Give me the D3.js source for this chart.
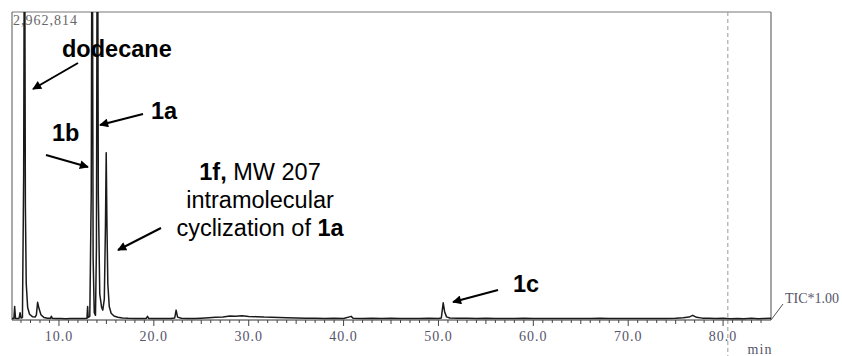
<!DOCTYPE html>
<html>
<head>
<meta charset="utf-8">
<script src="https://cdn.jsdelivr.net/npm/d3@7"></script>
<style>
  body { margin: 0; background: #fff; }
  svg { display: block; }
</style>
</head>
<body>
<div id="chart"></div>
<script>
// retention time (min) and total ion current (counts)
var retTime = [5.05, 5.25, 5.33, 5.42, 5.6, 5.8, 5.9, 6.0, 6.15, 6.28, 6.37, 6.46, 6.55, 6.7, 6.9, 7.2, 7.5, 7.62, 7.75, 7.9,
  8.1, 8.4, 8.8, 9.1, 9.2, 9.3, 9.7, 10.2, 10.7, 11.2, 11.7, 12.2, 12.7, 12.95, 13.02, 13.08, 13.25, 13.4, 13.5, 13.6,
  13.72, 13.85, 13.95, 14.05, 14.15, 14.3, 14.5, 14.62, 14.78, 14.9, 14.98, 15.06, 15.15, 15.3, 15.5, 15.8, 16.2, 16.7, 17.3, 18.0,
  18.7, 19.2, 19.33, 19.45, 20.2, 21.0, 21.8, 22.2, 22.35, 22.5, 22.9, 23.5, 24.3, 25.0, 25.8, 26.5, 27.3, 28.0, 28.6, 29.3,
  30.0, 30.8, 31.6, 32.4, 33.2, 34.0, 35.0, 36.0, 37.0, 38.0, 39.0, 40.0, 40.8, 41.0, 42.0, 43.0, 44.0, 45.0, 46.0, 47.0,
  48.0, 49.0, 50.0, 50.3, 50.5, 50.65, 50.85, 51.2, 52.0, 53.0, 54.0, 55.0, 56.0, 57.0, 58.0, 59.0, 60.0, 61.0, 62.0, 63.0,
  64.0, 65.0, 66.0, 67.0, 68.0, 69.0, 70.0, 71.0, 72.0, 73.0, 74.0, 75.0, 75.8, 76.4, 76.8, 77.2, 77.8, 78.5, 79.2, 80.0,
  80.8, 81.5, 82.2, 83.0, 83.7, 84.3, 85.05];
var ticCounts = [14000, 15000, 130000, 16000, 15000, 17000, 70000, 20000, 24000, 1400000, 4500000, 1100000, 350000, 120000, 55000, 32000, 30000, 50000, 170000, 110000,
  50000, 25000, 17000, 16000, 36000, 16000, 14000, 15000, 13000, 14500, 13500, 15000, 14000, 16000, 130000, 25000, 35000, 1200000, 4800000, 600000,
  70000, 45000, 700000, 4800000, 1200000, 250000, 120000, 95000, 200000, 900000, 1610000, 900000, 350000, 130000, 65000, 38000, 27000, 20000, 17000, 15000,
  14000, 15000, 36000, 15000, 13500, 14000, 15000, 20000, 95000, 28000, 16000, 14000, 15000, 18000, 22000, 26000, 30000, 38000, 36000, 40000,
  34000, 32000, 28000, 27000, 24000, 22000, 19000, 18000, 17000, 15500, 16500, 15000, 35000, 16000, 15000, 16000, 14500, 16000, 15000, 15500,
  14000, 16000, 15000, 19000, 165000, 80000, 30000, 20000, 17000, 16000, 15000, 16000, 14500, 15500, 14000, 16000, 15000, 14500, 15500, 14000,
  15500, 14500, 15000, 16000, 14500, 15000, 15500, 14000, 15000, 15500, 14500, 17000, 22000, 28000, 45000, 26000, 18000, 16000, 15000, 16000,
  12000, 15000, 11000, 17000, 12000, 14000, 16000];

var fullScale = 2962814;
var xTicks = [10, 20, 30, 40, 50, 60, 70, 80];
var markerTime = 80.5;

// peak labels: text, position, arrow from -> to
var peakNotes = [
  {lines: [[{t: "dodecane", b: true}]], x: 62, y: 57, from: [78, 63], to: [33, 89]},
  {lines: [[{t: "1a", b: true}]], x: 151, y: 119, from: [143, 114], to: [100, 125]},
  {lines: [[{t: "1b", b: true}]], x: 52, y: 141, from: [46, 155], to: [88, 167]},
  {lines: [[{t: "1f,", b: true}, {t: " MW 207", b: false}],
           [{t: "intramolecular", b: false}],
           [{t: "cyclization of ", b: false}, {t: "1a", b: true}]], x: 260, y: 180, center: true, from: [161, 228], to: [118, 250]},
  {lines: [[{t: "1c", b: true}]], x: 513, y: 292, from: [498, 290], to: [453, 302]}
];

var width = 842, height = 356;
var frame = {left: 12, right: 771, top: 12, bottom: 320};
var serif = "'Liberation Serif', 'DejaVu Serif', serif";

var svg = d3.select("#chart").append("svg")
    .attr("width", width)
    .attr("height", height);

var xScale = d3.scaleLinear().domain([5.05, 85.05]).range([frame.left, frame.right]);
var yScale = d3.scaleLinear().domain([0, fullScale]).range([frame.bottom, frame.top]);

svg.append("defs").append("clipPath").attr("id", "plotclip")
  .append("rect")
    .attr("x", frame.left).attr("y", frame.top)
    .attr("width", frame.right - frame.left).attr("height", frame.bottom - frame.top);

svg.append("defs").append("marker")
    .attr("id", "arrowhead")
    .attr("viewBox", "0 0 10 10")
    .attr("refX", 9).attr("refY", 5)
    .attr("markerWidth", 5).attr("markerHeight", 4.5)
    .attr("orient", "auto")
  .append("path").attr("d", "M0,0 L10,5 L0,10 z").attr("fill", "#000");

// frame
svg.append("line").attr("x1", frame.left).attr("x2", frame.right).attr("y1", frame.top).attr("y2", frame.top)
  .attr("stroke", "#777").attr("stroke-width", 1);
svg.append("line").attr("x1", frame.left).attr("x2", frame.left).attr("y1", frame.top).attr("y2", frame.bottom)
  .attr("stroke", "#555").attr("stroke-width", 1);
svg.append("line").attr("x1", frame.right).attr("x2", frame.right).attr("y1", frame.top).attr("y2", frame.bottom)
  .attr("stroke", "#888").attr("stroke-width", 1.5);

// dashed marker line
svg.append("line")
  .attr("x1", xScale(markerTime)).attr("x2", xScale(markerTime))
  .attr("y1", frame.top).attr("y2", height)
  .attr("stroke", "#999").attr("stroke-width", 1).attr("stroke-dasharray", "4,3");

// x axis with minor ticks every minute
var minorTicks = d3.range(6, 85, 1);
var axisG = svg.append("g").attr("transform", "translate(0," + frame.bottom + ")");
axisG.append("line").attr("x1", frame.left).attr("x2", frame.right).attr("stroke", "#333").attr("stroke-width", 1.2);
axisG.selectAll(".minor").data(minorTicks).enter().append("line")
  .attr("x1", function(d) { return xScale(d); })
  .attr("x2", function(d) { return xScale(d); })
  .attr("y1", 0)
  .attr("y2", function(d) { return d % 10 === 0 ? 6 : (d % 5 === 0 ? 4 : 3); })
  .attr("stroke", "#444").attr("stroke-width", 1);
axisG.selectAll(".lbl").data(xTicks).enter().append("text")
  .attr("x", function(d) { return xScale(d); })
  .attr("y", 21)
  .attr("text-anchor", "middle")
  .style("font-family", serif)
  .style("font-size", "14px")
  .style("letter-spacing", "1px")
  .style("fill", "#55556a")
  .text(function(d) { return d.toFixed(1); });

svg.append("text").attr("x", 760).attr("y", 354).attr("text-anchor", "middle")
  .style("font-family", serif)
  .style("font-size", "14px").style("letter-spacing", "1px").style("fill", "#55556a")
  .text("min");

// TIC label
svg.append("line").attr("x1", frame.right).attr("y1", frame.bottom).attr("x2", 783).attr("y2", 304)
  .attr("stroke", "#555").attr("stroke-width", 1);
svg.append("text").attr("x", 785).attr("y", 303)
  .style("font-family", serif)
  .style("font-size", "14px").style("fill", "#55556a")
  .text("TIC*1.00");

// full scale value
svg.append("text").attr("x", frame.left + 1).attr("y", 25)
  .style("font-family", serif)
  .style("font-size", "14px").style("letter-spacing", "1px").style("fill", "#666")
  .text(d3.format(",")(fullScale));

// trace
var traceData = retTime.map(function(t, i) { return {t: t, v: ticCounts[i]}; });
var line = d3.line()
  .x(function(d) { return xScale(d.t); })
  .y(function(d) { return yScale(d.v); });

svg.append("path")
  .datum(traceData)
  .attr("clip-path", "url(#plotclip)")
  .attr("d", line)
  .attr("fill", "none")
  .attr("stroke", "#1a1a1a")
  .attr("stroke-width", 1.5)
  .attr("stroke-linejoin", "round");

// annotations
peakNotes.forEach(function(n) {
  n.lines.forEach(function(ln, li) {
    var txt = svg.append("text")
      .attr("x", n.x)
      .attr("y", n.y + li * 28)
      .attr("text-anchor", n.center ? "middle" : "start")
      .style("font-family", "'Liberation Sans', Arial, sans-serif")
      .style("font-size", "23.5px")
      .style("fill", "#000");
    ln.forEach(function(s) {
      txt.append("tspan").style("font-weight", s.b ? "bold" : "normal").text(s.t);
    });
  });
  svg.append("line")
    .attr("x1", n.from[0]).attr("y1", n.from[1])
    .attr("x2", n.to[0]).attr("y2", n.to[1])
    .attr("stroke", "#000").attr("stroke-width", 2)
    .attr("marker-end", "url(#arrowhead)");
});
</script>
</body>
</html>
